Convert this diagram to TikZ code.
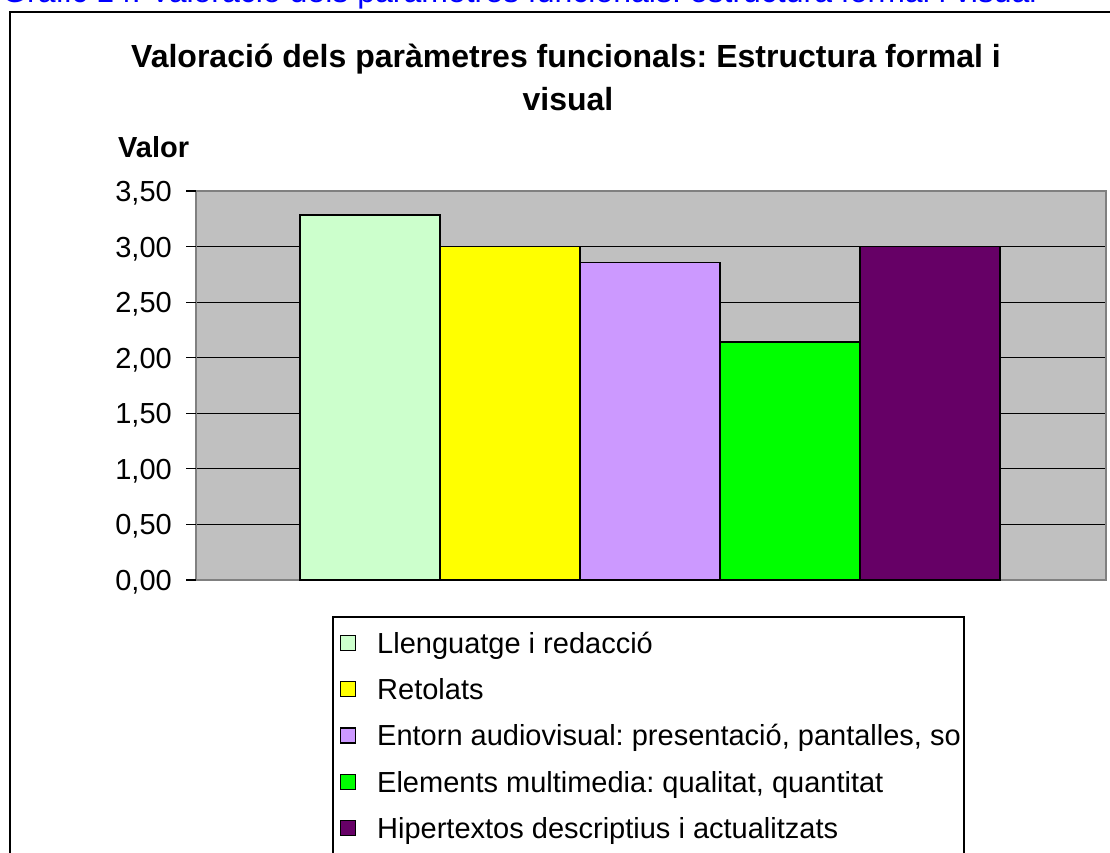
\documentclass[tikz,border=0pt]{standalone}
\usepackage{fontspec}
\setmainfont{Liberation Sans}
\frenchspacing
\definecolor{plotbg}{RGB}{192,192,192}
\definecolor{plotborder}{RGB}{128,128,128}
\definecolor{cA}{RGB}{204,255,204}
\definecolor{cB}{RGB}{255,255,0}
\definecolor{cC}{RGB}{204,153,255}
\definecolor{cD}{RGB}{0,255,0}
\definecolor{cE}{RGB}{102,0,102}
\definecolor{capblue}{RGB}{0,0,255}
\tikzset{
  ticklabel/.style={anchor=base east, inner sep=0pt, font=\fontsize{29}{34}\selectfont},
  legtext/.style={anchor=base west, inner sep=0pt, font=\fontsize{29}{34}\selectfont},
  titletext/.style={anchor=base, inner sep=0pt, font=\bfseries\fontsize{32}{43}\selectfont},
  barbox/.style={draw=black, line width=1.6pt},
  legbox/.style={draw=black, line width=1.2pt, minimum size=15pt, inner sep=0pt, outer sep=0pt},
  grid line/.style={draw=black, line width=1.1pt}
}
\begin{document}
\begin{tikzpicture}[x=1pt,y=-1pt]
\useasboundingbox (0,0) rectangle (1110,852);
\clip (0,0) rectangle (1110,852);
% caption (cut off at top, as in the reference)
\node[anchor=base west, inner sep=0pt, text=capblue, font=\fontsize{32}{38}\selectfont] (cap) at (2,2)
  {Gràfic 14: Valoració dels paràmetres funcionals: estructura formal i visual};
% outer frame
\draw[line width=1.6pt] (10,900) |- (1140,12);
% title
\node[titletext] (title1) at (566,67) {Valoració dels paràmetres funcionals: Estructura formal i};
\node[titletext] (title2) at (568,110) {visual};
\node[anchor=base west, inner sep=0pt, font=\bfseries\fontsize{29}{34}\selectfont] (ylab) at (118,157) {Valor};
% plot area
\def\yz{580}
\def\su{111.14}
\fill[plotbg] (196,191) rectangle (1106,580);
\foreach \v in {0.5,1.0,1.5,2.0,2.5,3.0}{
  \draw[grid line] (196,{\yz-\v*\su}) -- (1106,{\yz-\v*\su});
}
\draw[plotborder, line width=2pt] (196,191) rectangle (1106,580);
% bars
\draw[barbox, fill=cA] (300,580) rectangle (440,{\yz-3.2857*\su});
\draw[barbox, fill=cB] (440,580) rectangle (580,{\yz-3.0*\su});
\draw[barbox, fill=cC] (580,580) rectangle (720,{\yz-2.8571*\su});
\draw[barbox, fill=cD] (720,580) rectangle (860,{\yz-2.1429*\su});
\draw[barbox, fill=cE] (860,580) rectangle (1000,{\yz-3.0*\su});
% ticks and labels
\foreach \v/\t in {0/{0,00},0.5/{0,50},1.0/{1,00},1.5/{1,50},2.0/{2,00},2.5/{2,50},3.0/{3,00},3.5/{3,50}}{
  \draw[line width=1.1pt] (186,{\yz-\v*\su}) -- (196,{\yz-\v*\su});
  \node[ticklabel] at (172,{\yz-\v*\su+10.5}) {\t};
}
% legend
\draw[line width=1.2pt, fill=white] (333,900) |- (964,617) -- (964,900);
\foreach \i/\c/\t in {0/cA/{Llenguatge i redacció},1/cB/{Retolats},2/cC/{Entorn audiovisual: presentació, pantalles, so},3/cD/{Elements multimedia: qualitat, quantitat},4/cE/{Hipertextos descriptius i actualitzats}}{
  \node[legbox, fill=\c] (sq\i) at (348,{643+\i*46.2}) {};
  \node[legtext] (lt\i) at (377,{643+\i*46.2+10.5}) {\t};
}
\end{tikzpicture}
\end{document}
